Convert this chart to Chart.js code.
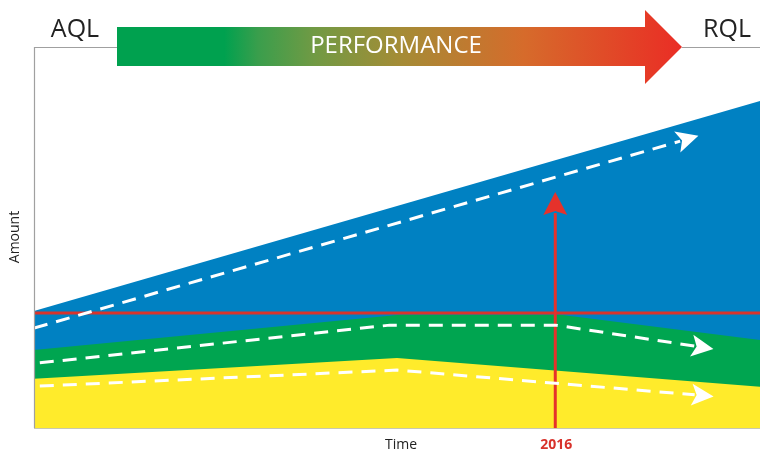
<!DOCTYPE html>
<html>
<head>
<meta charset="utf-8">
<script src="https://cdn.jsdelivr.net/npm/chart.js@4.4.1/dist/chart.umd.min.js"></script>
<style>
  body { margin: 0; background: #fff; }
  canvas { display: block; }
</style>
</head>
<body>
<canvas id="perf" width="760" height="452"></canvas>
<script>
// x and y are both on a 0..100 scale (time / amount)
var blueX = [0, 100];
var blueY = [30.7, 85.8];
var greenX = [0, 50.4, 72.5, 100];
var greenY = [20.5, 29.7, 29.7, 23.1];
var yellowX = [0, 50, 100];
var yellowY = [12.9, 18.4, 10.8];

var trendBlueX = [0, 89.0];
var trendBlueY = [26.2, 75.3];
var trendGreenX = [0.8, 49.0, 71.8, 91.0];
var trendGreenY = [17.1, 27.0, 27.0, 21.5];
var trendYellowX = [0.8, 50.0, 91.0];
var trendYellowY = [11.0, 15.2, 8.7];

var limitY = 30.2;       // red horizontal line
var markX = 71.8;        // 2016
var markTop = 56.4;      // red arrow base
var markLabel = '2016';

function pts(xs, ys) {
    return xs.map(function(x, i) { return { x: x, y: ys[i] }; });
}

var dash = {
    borderColor: '#ffffff', borderWidth: 3, borderDash: [14, 9],
    fill: false, pointRadius: 0, order: 0
};

// arrow heads, labels, the big PERFORMANCE arrow
var extras = {
    id: 'extras',
    beforeDraw: function(chart) {
        var c = chart.ctx;
        c.save();
        c.fillStyle = '#ffffff';
        c.fillRect(0, 0, chart.width, chart.height);
        c.restore();
    },
    afterDatasetsDraw: function(chart) {
        var c = chart.ctx, xs = chart.scales.x, ys = chart.scales.y;
        var a = chart.chartArea;

        // white dart heads at the end of each dashed line
        [[trendBlueX, trendBlueY], [trendGreenX, trendGreenY], [trendYellowX, trendYellowY]].forEach(function(s) {
            var n = s[0].length;
            var x1 = xs.getPixelForValue(s[0][n - 2]), y1 = ys.getPixelForValue(s[1][n - 2]);
            var x2 = xs.getPixelForValue(s[0][n - 1]), y2 = ys.getPixelForValue(s[1][n - 1]);
            var ang = Math.atan2(y2 - y1, x2 - x1);
            c.save();
            c.translate(x2, y2);
            c.rotate(ang);
            c.fillStyle = '#ffffff';
            c.beginPath();
            c.moveTo(19, 0);
            c.lineTo(-3, -11);
            c.lineTo(2, 0);
            c.lineTo(-3, 11);
            c.closePath();
            c.fill();
            c.restore();
        });

        // red arrow head on the 2016 line
        var mx = xs.getPixelForValue(markX), my = ys.getPixelForValue(markTop);
        c.save();
        c.fillStyle = '#e5322b';
        c.beginPath();
        c.moveTo(mx, my - 21);
        c.lineTo(mx + 12, my + 2);
        c.lineTo(mx, my - 2);
        c.lineTo(mx - 12, my + 2);
        c.closePath();
        c.fill();
        c.restore();

        // axes frame
        c.save();
        c.strokeStyle = '#a0a0a0';
        c.lineWidth = 1.2;
        c.beginPath();
        c.moveTo(a.left + 0.5, a.bottom);
        c.lineTo(a.left + 0.5, a.top + 0.5);
        c.lineTo(117, a.top + 0.5);
        c.moveTo(682, a.top + 0.5);
        c.lineTo(a.right, a.top + 0.5);
        c.stroke();
        c.strokeStyle = '#c8c8b0';
        c.beginPath();
        c.moveTo(a.left, a.bottom + 0.5);
        c.lineTo(a.right, a.bottom + 0.5);
        c.stroke();
        c.restore();

        // PERFORMANCE arrow
        c.save();
        var g = c.createLinearGradient(117, 0, 682, 0);
        g.addColorStop(0, '#00a14f');
        g.addColorStop(0.19, '#00a14f');
        g.addColorStop(0.25, '#3a9e4c');
        g.addColorStop(0.35, '#719a44');
        g.addColorStop(0.5, '#a48c36');
        g.addColorStop(0.72, '#d66b2b');
        g.addColorStop(1, '#ea2d25');
        c.fillStyle = g;
        c.beginPath();
        c.moveTo(117, 27);
        c.lineTo(645, 27);
        c.lineTo(645, 10);
        c.lineTo(682, 47);
        c.lineTo(645, 84);
        c.lineTo(645, 66);
        c.lineTo(117, 66);
        c.closePath();
        c.fill();
        c.fillStyle = '#ffffff';
        c.font = '24px "Open Sans"';
        c.textAlign = 'center';
        c.textBaseline = 'middle';
        c.fillText('PERFORMANCE', 396, 46);

        c.fillStyle = '#222222';
        c.font = '25px "Open Sans"';
        c.textBaseline = 'alphabetic';
        c.fillText('AQL', 75, 37);
        c.fillText('RQL', 727, 37);

        c.font = '14px "Open Sans"';
        c.fillStyle = '#222222';
        c.textBaseline = 'middle';
        c.fillText('Time', 401, 445);
        c.fillStyle = '#d8322b';
        c.font = 'bold 14px "Open Sans"';
        c.fillText(markLabel, mx + 1, 445);

        c.fillStyle = '#222222';
        c.font = '14px "Open Sans"';
        c.translate(15, 237);
        c.rotate(-Math.PI / 2);
        c.fillText('Amount', 0, 0);
        c.restore();
    }
};

var ctx = document.getElementById('perf').getContext('2d');
var chart = new Chart(ctx, {
    type: 'line',
    data: {
        datasets: [
            Object.assign({ label: 'trend yellow', data: pts(trendYellowX, trendYellowY) }, dash),
            Object.assign({ label: 'trend green', data: pts(trendGreenX, trendGreenY) }, dash),
            Object.assign({ label: 'trend blue', data: pts(trendBlueX, trendBlueY) }, dash),
            {
                label: '2016', data: pts([markX, markX], [0, markTop]),
                borderColor: '#e5322b', borderWidth: 3, pointRadius: 0, fill: false, order: 1
            },
            {
                label: 'limit', data: pts([0, 100], [limitY, limitY]),
                borderColor: '#d8342c', borderWidth: 3, pointRadius: 0, fill: false, order: 2
            },
            {
                label: 'yellow', data: pts(yellowX, yellowY),
                borderWidth: 0, backgroundColor: '#ffeb2b', borderColor: '#ffeb2b',
                fill: 'origin', pointRadius: 0, order: 3
            },
            {
                label: 'green', data: pts(greenX, greenY),
                borderWidth: 0, backgroundColor: '#00a550', borderColor: '#00a550',
                fill: 'origin', pointRadius: 0, order: 4
            },
            {
                label: 'blue', data: pts(blueX, blueY),
                borderWidth: 0, backgroundColor: '#0081c2', borderColor: '#0081c2',
                fill: 'origin', pointRadius: 0, order: 5
            }
        ]
    },
    options: {
        responsive: false,
        animation: false,
        layout: { padding: { left: 34, top: 47, right: 0, bottom: 24 } },
        elements: { line: { tension: 0 } },
        plugins: { legend: { display: false }, tooltip: { enabled: false } },
        scales: {
            x: { type: 'linear', min: 0, max: 100, display: false },
            y: { type: 'linear', min: 0, max: 100, display: false }
        }
    },
    plugins: [extras]
});
</script>
</body>
</html>
